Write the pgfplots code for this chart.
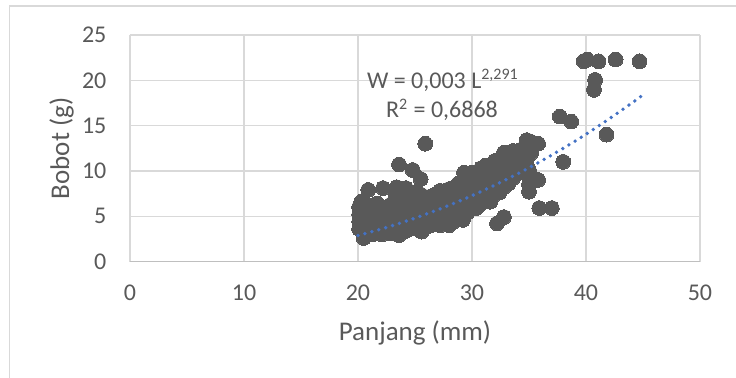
\documentclass[border=0pt]{standalone}
\usepackage{pgfplots}
\pgfplotsset{compat=1.18}
\usepackage{fontspec}
\setmainfont{Carlito}
\definecolor{txt}{HTML}{595959}
\definecolor{grd}{HTML}{D9D9D9}
\definecolor{axl}{HTML}{BFBFBF}
\definecolor{dot}{HTML}{595959}
\definecolor{trend}{HTML}{4472C4}
\begin{document}
\begin{tikzpicture}
\useasboundingbox (0,0) rectangle (368pt,188.5pt);
\draw[grd, line width=0.7pt] (4.7pt,-2pt) -- (4.7pt,185.5pt) -- (372pt,185.5pt);
\begin{axis}[
  at={(65pt,57.75pt)}, anchor=south west,
  scale only axis, width=285pt, height=113.25pt,
  xmin=0, xmax=50, ymin=0, ymax=25,
  xtick={0,10,20,30,40,50}, ytick={0,5,10,15,20,25},
  axis x line*=bottom, axis y line*=left,
  x axis line style={draw=axl, line width=0.7pt},
  y axis line style={draw=none},
  major tick length=0pt,
  grid=major,
  major grid style={draw=grd, line width=0.7pt},
  /pgf/number format/assume math mode=true,
  tick label style={font=\fontsize{12}{12}\selectfont, text=txt},
  xticklabel style={anchor=center, yshift=-15.6pt},
  yticklabel style={anchor=east, inner xsep=0pt, xshift=-11.6pt},
  xlabel={Panjang (mm)}, ylabel={Bobot (g)},
  label style={font=\fontsize{13.5}{13.5}\selectfont, text=txt},
  xlabel style={at={(axis description cs:0.5,0)}, anchor=center, yshift=-35.7pt},
  ylabel style={at={(axis description cs:0,0.5)}, anchor=center, yshift=34.2pt},
  clip=false, clip marker paths=true,
]
\addplot[only marks, mark=*, mark size=3.7pt, mark options={fill=dot, draw=dot, line width=0pt}] coordinates {
(20.1,3.6)(20.1,4.4)(20.1,5.2)(20.1,6.0)(20.3,4.8)(20.3,6.6)
(20.5,2.6)(20.5,3.4)(20.5,4.2)(20.5,5.5)
(20.9,3.2)(20.9,4.0)(20.9,4.8)(20.9,5.6)(20.9,7.9)
(21.3,3.0)(21.3,3.8)(21.3,4.6)(21.3,5.4)(21.3,6.2)
(21.7,3.2)(21.7,4.0)(21.7,4.8)(21.7,5.6)(21.7,6.4)
(22.1,3.0)(22.1,3.7)(22.1,4.5)(22.1,5.3)(22.1,6.0)(22.2,8.1)
(22.5,3.3)(22.5,4.1)(22.5,4.9)(22.5,5.7)
(22.9,3.1)(22.9,3.9)(22.9,4.7)(22.9,5.5)(22.9,6.3)
(23.3,3.4)(23.3,4.2)(23.3,5.0)(23.3,5.8)(23.3,6.6)(23.3,7.4)(23.4,8.2)
(23.6,2.9)(23.6,3.7)(23.6,4.5)(23.6,5.3)(23.6,6.1)(23.6,10.7)
(24.0,3.3)(24.0,4.1)(24.0,4.9)(24.0,5.7)(24.0,6.5)(24.0,7.3)(24.2,8.1)
(24.4,3.5)(24.4,4.3)(24.4,5.1)(24.4,5.9)(24.4,6.7)(24.4,7.6)
(24.8,3.8)(24.8,4.6)(24.8,5.4)(24.8,6.2)(24.8,7.0)(24.8,10.1)
(25.2,3.6)(25.2,4.4)(25.2,5.2)(25.2,6.0)(25.2,6.8)(25.2,7.7)
(25.6,3.3)(25.6,4.1)(25.6,4.9)(25.6,5.7)(25.6,6.5)(25.6,7.3)(25.5,9.1)
(25.9,13.0)
(26.0,3.8)(26.0,4.6)(26.0,5.4)(26.0,6.2)(26.0,7.0)
(26.4,4.0)(26.4,4.8)(26.4,5.6)(26.4,6.4)(26.4,7.2)
(26.8,4.2)(26.8,5.0)(26.8,5.8)(26.8,6.6)(26.8,7.4)
(27.2,4.0)(27.2,4.8)(27.2,5.6)(27.2,6.4)(27.2,7.2)(27.2,7.8)
(27.6,4.3)(27.6,5.1)(27.6,5.9)(27.6,6.7)(27.6,7.5)
(28.0,4.0)(28.0,4.8)(28.0,5.6)(28.0,6.4)(28.0,7.2)(28.0,8.0)
(28.4,4.4)(28.4,5.2)(28.4,6.0)(28.4,6.8)(28.4,7.6)
(28.8,4.8)(28.8,5.6)(28.8,6.4)(28.8,7.2)(28.8,8.0)(28.8,8.6)
(29.2,4.6)(29.2,5.4)(29.2,6.2)(29.2,7.0)(29.2,7.8)(29.2,8.6)(29.3,9.8)
(29.6,5.4)(29.6,6.2)(29.6,7.0)(29.6,7.8)(29.6,8.6)(29.6,9.4)
(30.0,5.8)(30.0,6.6)(30.0,7.4)(30.0,8.2)(30.0,9.0)(30.0,9.8)
(30.4,5.9)(30.4,6.7)(30.4,7.5)(30.4,8.3)(30.4,9.1)
(30.8,6.4)(30.8,7.2)(30.8,8.0)(30.8,8.8)(30.8,9.6)(30.8,10.3)
(31.2,6.8)(31.2,7.6)(31.2,8.4)(31.2,9.2)(31.2,10.0)(31.2,10.6)
(31.6,6.6)(31.6,7.4)(31.6,8.2)(31.6,9.0)(31.6,9.8)(31.6,10.6)
(32.0,7.4)(32.0,8.2)(32.0,9.0)(32.0,9.8)(32.0,10.6)(32.0,11.1)
(32.4,7.6)(32.4,8.4)(32.4,9.2)(32.4,10.0)(32.4,10.8)
(32.8,8.2)(32.8,9.0)(32.8,9.8)(32.8,10.6)(32.8,11.4)(32.8,12.0)
(33.2,8.6)(33.2,9.4)(33.2,10.2)(33.2,11.0)(33.2,11.8)
(33.6,9.2)(33.6,10.0)(33.6,10.8)(33.6,11.6)(33.6,12.2)
(34.0,9.8)(34.0,10.6)(34.0,11.4)(34.0,12.0)
(34.4,10.0)(34.4,10.8)(34.4,11.6)(34.4,12.4)
(34.8,10.4)(34.8,11.2)(34.8,12.0)(34.8,12.8)(34.8,13.4)
(35.2,12.0)(35.2,12.8)(35.2,13.2)(35.8,13.0)
(35.0,7.7)(35.0,8.5)(35.0,9.3)(35.0,10.1)(35.8,9.0)
(32.2,4.2)(32.8,4.9)(35.9,5.9)(37.0,5.9)
(37.7,16.0)(38.7,15.45)(38.0,11.0)(41.8,14.0)
(40.7,18.95)(40.8,20.05)
(39.8,22.1)(40.1,22.3)(41.1,22.1)(42.6,22.3)(44.7,22.1)
};
\addplot[trend, line width=1.9pt, line cap=round, dash pattern=on 0pt off 3.6pt, smooth] coordinates {
(20,2.87)(22,3.57)(24,4.36)(26,5.24)(28,6.21)(30,7.27)(32,8.43)(34,9.68)(36,11.04)(38,12.49)(40,14.05)(42,15.72)(44,17.48)(44.8,18.2)
};
\node[anchor=base, text=txt, font=\fontsize{12}{12}\selectfont] at (axis cs:27.45,19.15) {W = 0,003 L\textsuperscript{2,291}};
\node[anchor=base, text=txt, font=\fontsize{12}{12}\selectfont] at (axis cs:27.37,15.86) {R\textsuperscript{2} = 0,6868};
\end{axis}
\end{tikzpicture}
\end{document}
